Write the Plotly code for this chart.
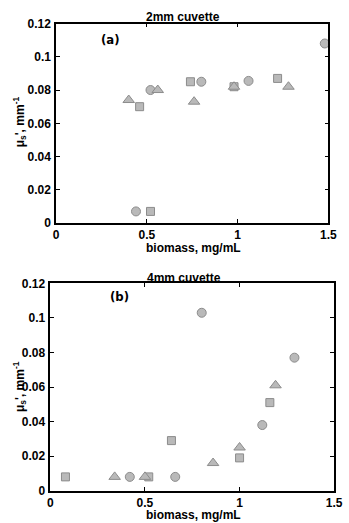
import plotly.graph_objects as go

# ---- data ----
a_circle_x = [0.44, 0.52, 0.80, 1.06, 1.48]
a_circle_y = [0.007, 0.080, 0.085, 0.0855, 0.108]
a_square_x = [0.46, 0.52, 0.74, 0.98, 1.22]
a_square_y = [0.070, 0.007, 0.085, 0.082, 0.087]
a_tri_x = [0.40, 0.56, 0.76, 0.98, 1.28]
a_tri_y = [0.074, 0.080, 0.073, 0.082, 0.082]

b_circle_x = [0.42, 0.66, 0.80, 1.12, 1.29]
b_circle_y = [0.008, 0.008, 0.103, 0.038, 0.077]
b_square_x = [0.08, 0.52, 0.64, 1.00, 1.16]
b_square_y = [0.008, 0.008, 0.029, 0.019, 0.051]
b_tri_x = [0.34, 0.50, 0.86, 1.00, 1.19]
b_tri_y = [0.008, 0.008, 0.016, 0.025, 0.061]

x_ticks = [0, 0.5, 1, 1.5]
x_tick_text = ["0", "0.5", "1", "1.5"]
y_ticks = [0, 0.02, 0.04, 0.06, 0.08, 0.1, 0.12]
y_tick_text = ["0", "0.02", "0.04", "0.06", "0.08", "0.1", "0.12"]

W, H = 349, 523
def px(x):
    return x / W
def py(y):
    return 1 - y / H

FILL = "#b9b9b9"
EDGE = "#8c8c8c"
FONT = "Liberation Sans"

fig = go.Figure()

def add(xs, ys, sym, size, xa, ya):
    fig.add_trace(go.Scatter(
        x=xs, y=ys, mode="markers", xaxis=xa, yaxis=ya, showlegend=False,
        marker=dict(symbol=sym, size=size, color=FILL, line=dict(color=EDGE, width=1)),
    ))

add(a_circle_x, a_circle_y, "circle", 9, "x", "y")
add(a_square_x, a_square_y, "square", 8, "x", "y")
add(a_tri_x, a_tri_y, "triangle-up", 10, "x", "y")
add(b_circle_x, b_circle_y, "circle", 9, "x2", "y2")
add(b_square_x, b_square_y, "square", 8, "x2", "y2")
add(b_tri_x, b_tri_y, "triangle-up", 10, "x2", "y2")

axis_common = dict(
    showgrid=False, zeroline=False, showline=True, linecolor="black", linewidth=1.5,
    mirror="ticks", ticks="inside", ticklen=4, tickcolor="black",
    tickfont=dict(family=FONT, size=12, color="black", weight="bold"),
)

fig.update_layout(
    width=W, height=H, margin=dict(l=0, r=0, t=0, b=0),
    paper_bgcolor="white", plot_bgcolor="white",
    xaxis=dict(domain=[px(55), px(337)], range=[0, 1.5], anchor="y", ticklabelstandoff=0,
               tickvals=x_ticks, ticktext=x_tick_text, **axis_common),
    yaxis=dict(domain=[py(222), py(17)], range=[0, 0.12], anchor="x", ticklabelstandoff=1,
               tickvals=y_ticks, ticktext=y_tick_text, **axis_common),
    xaxis2=dict(domain=[px(49), px(343)], range=[0, 1.5], anchor="y2", ticklabelstandoff=0,
                tickvals=x_ticks, ticktext=x_tick_text, **axis_common),
    yaxis2=dict(domain=[py(497), py(284)], range=[0, 0.12], anchor="x2", ticklabelstandoff=1,
                tickvals=y_ticks, ticktext=y_tick_text, **axis_common),
)

ann = []
def text(x, y, t, size, rot=0, family=FONT, yanchor="middle"):
    ann.append(dict(x=px(x), y=py(y), xref="paper", yref="paper", text=t,
                    showarrow=False, textangle=rot, xanchor="center", yanchor=yanchor,
                    font=dict(family=family, size=size, color="black", weight="bold")))

text(186, 10, "2mm cuvette", 12)
text(187, 278, "4mm cuvette", 12)
text(197, 238, "biomass, mg/mL", 12, yanchor="top")
text(197, 513, "biomass, mg/mL", 12, yanchor="top")
text(17, 118, "μ<sub>s</sub>', mm<sup>-1</sup>", 12, -90)
text(17, 390, "μ<sub>s</sub>', mm<sup>-1</sup>", 12, -90)
text(111, 33, "(a)", 13, family="DejaVu Sans Condensed")
text(121, 297, "(b)", 13, family="DejaVu Sans Condensed")
fig.update_layout(annotations=ann)

fig.write_html("out.html")
